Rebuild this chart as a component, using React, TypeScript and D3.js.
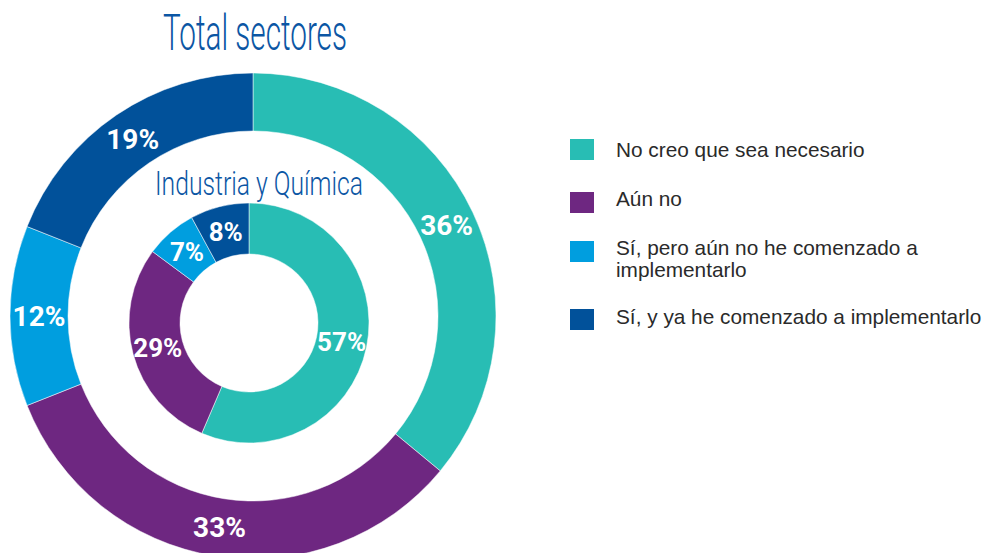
import { useEffect } from 'react';
import * as d3 from 'd3';

const categories = [
  'No creo que sea necesario',
  'Aún no',
  'Sí, pero aún no he comenzado a implementarlo',
  'Sí, y ya he comenzado a implementarlo',
];
const legendLines = [
  ['No creo que sea necesario'],
  ['Aún no'],
  ['Sí, pero aún no he comenzado a', 'implementarlo'],
  ['Sí, y ya he comenzado a implementarlo'],
];
const totalValues = [36, 33, 12, 19];
const industriaValues = [57, 29, 7, 8];
const colors = ['#28bdb4', '#6e2781', '#009edf', '#01519a'];

const titleColor = '#0b56a4';

export default function App() {
  useEffect(() => {
    document.body.style.margin = '0';
  }, []);

  const W = 984;
  const H = 553;

  const pie = d3.pie<number>().sort(null).value((d) => d);

  const outer = { cx: 253, cy: 316, r0: 185, r1: 243 };
  const inner = { cx: 249, cy: 323, r0: 69, r1: 120 };

  const outerArc = d3.arc<d3.PieArcDatum<number>>().innerRadius(outer.r0).outerRadius(outer.r1);
  const innerArc = d3.arc<d3.PieArcDatum<number>>().innerRadius(inner.r0).outerRadius(inner.r1);

  const outerSlices = pie(totalValues);
  const innerSlices = pie(industriaValues);

  const labelFont = 'Roboto, "Liberation Sans", Arial, sans-serif';

  // legend rows: box top and first baseline
  const boxTops = [139, 192, 241, 309];
  const baselines = [157, 206, 255, 324];

  return (
    <svg width={W} height={H} style={{ display: 'block', background: '#fff' }}>
      {/* titles */}
      <text
        x={255}
        y={50}
        textAnchor="middle"
        fill={titleColor}
        fontFamily={labelFont}
        fontWeight={300}
        fontSize={50}
        textLength={184}
        lengthAdjust="spacingAndGlyphs"
      >
        Total sectores
      </text>

      <g transform={`translate(${outer.cx},${outer.cy})`}>
        {outerSlices.map((s, i) => (
          <path key={i} d={outerArc(s) || ''} fill={colors[i]} stroke="#fff" strokeWidth={0.5} />
        ))}
        {outerSlices.map((s, i) => {
          const [x, y] = outerArc.centroid(s);
          return (
            <text
              key={i}
              x={x}
              y={y}
              dy="0.36em"
              textAnchor="middle"
              fill="#fff"
              fontFamily={labelFont}
              fontWeight={700}
              fontSize={28}
            >
              {totalValues[i]}%
            </text>
          );
        })}
      </g>

      <text
        x={259}
        y={195}
        textAnchor="middle"
        fill={titleColor}
        fontFamily={labelFont}
        fontWeight={300}
        fontSize={34}
        textLength={208}
        lengthAdjust="spacingAndGlyphs"
      >
        Industria y Química
      </text>

      <g transform={`translate(${inner.cx},${inner.cy})`}>
        {innerSlices.map((s, i) => (
          <path key={i} d={innerArc(s) || ''} fill={colors[i]} stroke="#fff" strokeWidth={0.5} />
        ))}
        {innerSlices.map((s, i) => {
          const [x, y] = innerArc.centroid(s);
          return (
            <text
              key={i}
              x={x}
              y={y}
              dy="0.36em"
              textAnchor="middle"
              fill="#fff"
              fontFamily={labelFont}
              fontWeight={700}
              fontSize={26}
            >
              {industriaValues[i]}%
            </text>
          );
        })}
      </g>

      {/* legend */}
      <g fontFamily='"Liberation Sans", Arial, sans-serif' fontSize={20.8} fill="#2a2a2a">
        {categories.map((c, i) => (
          <g key={c}>
            <rect x={570} y={boxTops[i]} width={24} height={21} fill={colors[i]} />
            {legendLines[i].map((line, j) => (
              <text key={j} x={616} y={baselines[i] + j * 22}>
                {line}
              </text>
            ))}
          </g>
        ))}
      </g>
    </svg>
  );
}
